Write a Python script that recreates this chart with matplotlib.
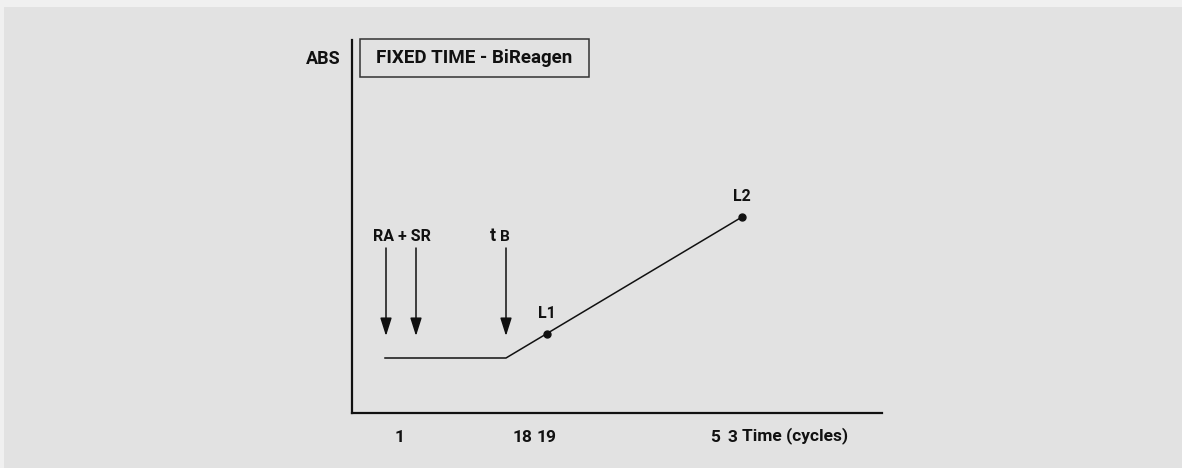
import matplotlib.pyplot as plt
from matplotlib.patches import Rectangle

# schematic units: x grows to the right from the y axis, y grows up from the x axis
signal_x = [33, 154, 390]
signal_y = [55, 55, 196]

points_x = [195, 390]
points_y = [79, 196]
point_labels = ['L1', 'L2']

arrow_x = [34, 64, 154]
arrow_top = 165
arrow_tip = 77

tick_pos = [48, 170, 195, 363, 380]
tick_labels = ['1', '18', '19', '5', '3']

plt.rcParams['font.family'] = ['Roboto', 'DejaVu Sans']
plt.rcParams['font.weight'] = 'bold'
ink = '#111111'

fig = plt.figure(figsize=(11.82, 4.68), dpi=100, facecolor='#f0f0f0')
fig.patches.append(Rectangle((4 / 1182, 0), 1, 461 / 468, transform=fig.transFigure,
                             facecolor='#e2e2e2', edgecolor='none', zorder=-10))

ax = fig.add_axes([352 / 1182, 55 / 468, 530 / 1182, 373 / 468])
ax.set_facecolor('none')
ax.set_xlim(0, 530)
ax.set_ylim(0, 373)
for s in ('top', 'right'):
    ax.spines[s].set_visible(False)
for s in ('left', 'bottom'):
    ax.spines[s].set_linewidth(1.6)
    ax.spines[s].set_color(ink)
ax.set_yticks([])
ax.set_xticks(tick_pos)
ax.set_xticklabels(tick_labels, fontsize=12.5, fontweight='bold', color=ink)
ax.tick_params(axis='x', length=0, pad=12)

# signal trace
ax.plot(signal_x, signal_y, color=ink, lw=1.1)
ax.plot(points_x, points_y, 'o', color=ink, ms=5)
for x, y, lab in zip(points_x, points_y, point_labels):
    ax.text(x, y + 13, lab, ha='center', va='bottom', fontsize=11.5, color=ink)

# reagent additions
for x in arrow_x:
    ax.annotate('', xy=(x, arrow_tip), xytext=(x, arrow_top),
                arrowprops=dict(arrowstyle='-|>,head_length=1.1,head_width=0.35',
                                color=ink, lw=1.1, shrinkA=0, shrinkB=0))
ax.text(50, 176, 'RA + SR', ha='center', va='center', fontsize=11.5, color=ink)
ax.text(141, 177, 't', ha='center', va='center', fontsize=13, color=ink)
ax.text(153, 175.5, 'B', ha='center', va='center', fontsize=11, color=ink)

# axis titles
ax.text(-11, 354, 'ABS', ha='right', va='center', fontsize=13, color=ink, clip_on=False)
ax.text(390, -23, 'Time (cycles)', ha='left', va='center', fontsize=12.5, color=ink, clip_on=False)

# title box
ax.add_patch(Rectangle((8, 336), 229, 38, facecolor='none', edgecolor='#333333',
                       lw=1.1, clip_on=False))
ax.text(122, 355, 'FIXED TIME - BiReagen', ha='center', va='center', fontsize=13.5,
        color=ink, clip_on=False)

fig.savefig('out.png', dpi=100, facecolor=fig.get_facecolor())
